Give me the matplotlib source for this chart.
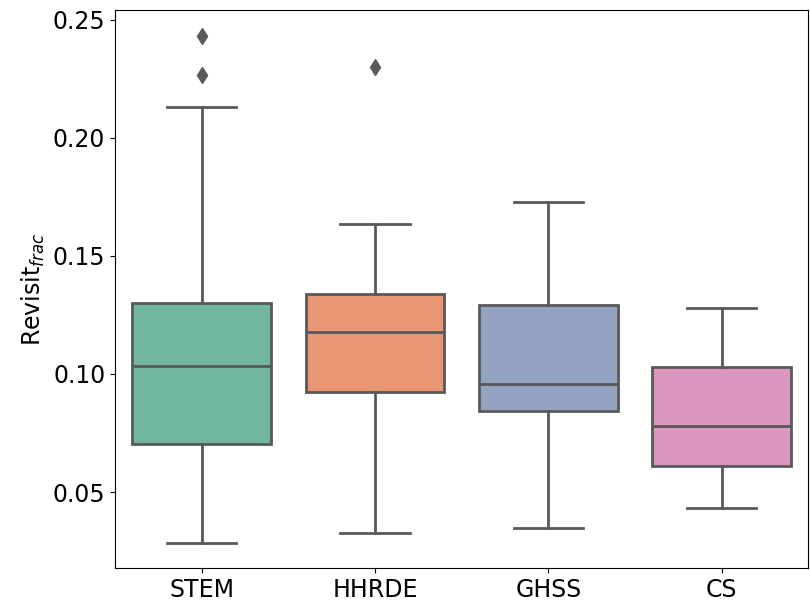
import matplotlib
matplotlib.use("Agg")
import matplotlib.pyplot as plt
import seaborn as sns

groups = ["STEM", "HHRDE", "GHSS", "CS"]
whislo = [0.0284, 0.0326, 0.0347, 0.0432]
q1 = [0.0703, 0.0924, 0.0843, 0.0610]
med = [0.1034, 0.1178, 0.0958, 0.0780]
q3 = [0.1300, 0.1339, 0.1292, 0.1030]
whishi = [0.2131, 0.1636, 0.1729, 0.1280]
fliers = [[0.2432, 0.2267], [0.2301], [], []]

stats = []
for i, g in enumerate(groups):
    stats.append(dict(label=g, whislo=whislo[i], q1=q1[i], med=med[i],
                      q3=q3[i], whishi=whishi[i], fliers=fliers[i]))

pal = [sns.desaturate(c, 0.75) for c in sns.color_palette("Set2", 4)]
gray = "#595959"

fig, ax = plt.subplots(figsize=(8.1, 6.07), dpi=100)
bp = ax.bxp(stats, positions=range(len(groups)), widths=0.8, patch_artist=True,
            boxprops=dict(edgecolor=gray, linewidth=2),
            medianprops=dict(color=gray, linewidth=2),
            whiskerprops=dict(color=gray, linewidth=2),
            capprops=dict(color=gray, linewidth=2),
            flierprops=dict(marker="d", markerfacecolor=gray, markeredgecolor=gray,
                            markersize=8))
for patch, c in zip(bp["boxes"], pal):
    patch.set_facecolor(c)

ax.set_xlim(-0.5, 3.5)
ax.set_ylim(0.0178, 0.2542)
ax.set_yticks([0.05, 0.10, 0.15, 0.20, 0.25])
ax.set_xticks(range(len(groups)))
ax.set_xticklabels(groups)
ax.tick_params(labelsize=17)
ax.set_ylabel("Revisit$_{frac}$", fontsize=17)

fig.subplots_adjust(left=0.142, right=0.998, top=0.984, bottom=0.064)
fig.savefig("out.png", dpi=100)
